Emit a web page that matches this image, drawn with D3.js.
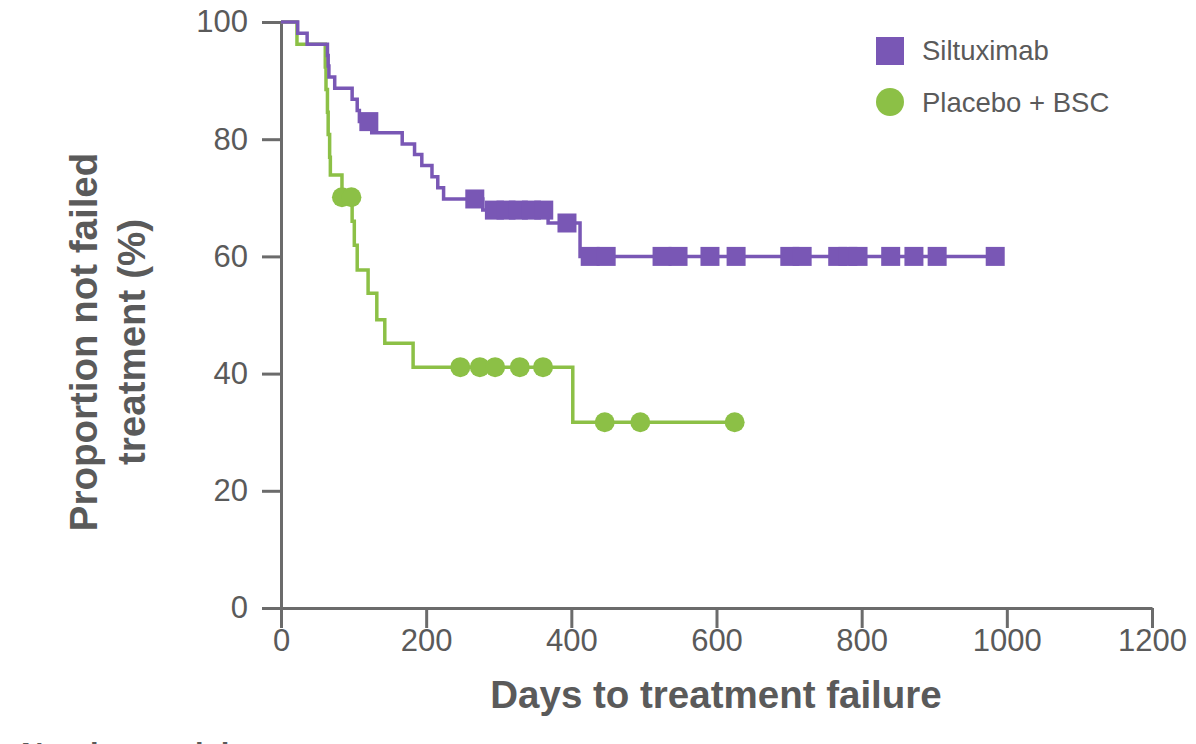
<!DOCTYPE html>
<html>
<head>
<meta charset="utf-8">
<script src="https://cdn.jsdelivr.net/npm/d3@7"></script>
<style>
  body { margin: 0; background: #fff; }
  text { font-family: Arial, "Liberation Sans", sans-serif; }
</style>
</head>
<body>
<div class="chart"></div>
<script>
// Kaplan-Meier data (days, % not failed)
var silTimes = [0, 23, 36, 64, 65, 66, 74, 98, 105, 108, 125, 167, 184, 194, 208, 216, 224, 278, 368, 412, 984];
var silSurv  = [100, 98.1, 96.2, 94.3, 92.5, 90.6, 88.7, 86.8, 84.9, 83.0, 81.1, 79.2, 77.4, 75.5, 73.6, 71.7, 69.8, 67.9, 65.7, 60.0, 60.0];
var silCensor = [121, 267, 294, 310, 327, 345, 362, 394, 426, 448, 525, 547, 591, 627, 701, 718, 767, 781, 795, 840, 872, 904, 984];

var pboTimes = [0, 22, 61, 62, 64, 65, 67, 68, 84, 98, 101, 105, 120, 132, 143, 182, 402, 625];
var pboSurv  = [100, 96.2, 92.3, 88.5, 84.6, 80.8, 76.9, 73.9, 70.1, 66.0, 61.9, 57.7, 53.7, 49.2, 45.2, 41.1, 31.7, 31.7];
var pboCensor = [84, 97, 247, 274, 295, 329, 361, 446, 495, 625];

var xTicks = [0, 200, 400, 600, 800, 1000, 1200];
var yTicks = [0, 20, 40, 60, 80, 100];

var svgWidth = 1196;
var svgHeight = 744;

var purple = "#7957b5";
var green = "#8cc046";
var axisGrey = "#6b6b6b";
var textGrey = "#5a5a5a";

var svg = d3.select(".chart")
  .append("svg")
  .attr("width", svgWidth)
  .attr("height", svgHeight);

var xScale = d3.scaleLinear().domain([0, 1200]).range([281, 1152]);
var yScale = d3.scaleLinear().domain([0, 100]).range([608, 22]);

// axes
var bottomAxis = d3.axisBottom(xScale).tickValues(xTicks).tickFormat(d3.format("d"))
  .tickSize(20).tickSizeOuter(0).tickPadding(1);
var leftAxis = d3.axisLeft(yScale).tickValues(yTicks).tickFormat(d3.format("d"))
  .tickSize(19).tickSizeOuter(0).tickPadding(14);

var xAxis = svg.append("g")
  .attr("transform", `translate(0, ${yScale(0)})`)
  .call(bottomAxis);

var yAxis = svg.append("g")
  .attr("transform", `translate(${xScale(0)}, 0)`)
  .call(leftAxis);

[xAxis, yAxis].forEach(function(ax) {
  ax.selectAll("path, line").attr("stroke", axisGrey).attr("stroke-width", 3);
  ax.selectAll("text")
    .attr("fill", textGrey)
    .style("font-size", "31px")
    .style("font-family", "Arial, 'Liberation Sans', sans-serif");
});

// axis titles
svg.append("text")
  .attr("x", 716)
  .attr("y", 708)
  .attr("text-anchor", "middle")
  .attr("fill", textGrey)
  .style("font-size", "38.5px")
  .style("font-weight", "bold")
  .text("Days to treatment failure");

var yTitle = svg.append("text")
  .attr("transform", "translate(97, 342) rotate(-90)")
  .attr("text-anchor", "middle")
  .attr("fill", textGrey)
  .style("font-size", "38.5px")
  .style("font-weight", "bold");
yTitle.append("tspan").attr("x", 0).attr("y", 0).text("Proportion not failed");
yTitle.append("tspan").attr("x", 0).attr("y", 48).text("treatment (%)");

// number at risk heading, mostly cut off at the bottom edge
svg.append("text")
  .attr("x", 21)
  .attr("y", 765)
  .attr("fill", textGrey)
  .style("font-size", "31px")
  .style("font-weight", "bold")
  .text("Number at risk");

// step function lookup for censor marks
function survAt(times, surv, t) {
  var i = d3.bisectRight(times, t) - 1;
  return surv[Math.max(i, 0)];
}

var stepLine = d3.line()
  .x(d => xScale(d[0]))
  .y(d => yScale(d[1]))
  .curve(d3.curveStepAfter);

function drawCurve(times, surv, color) {
  svg.append("path")
    .datum(d3.zip(times, surv))
    .attr("d", stepLine)
    .attr("fill", "none")
    .attr("stroke", color)
    .attr("stroke-width", 3.5);
}

drawCurve(pboTimes, pboSurv, green);
drawCurve(silTimes, silSurv, purple);

// censor markers
svg.selectAll(".pboCensor")
  .data(pboCensor)
  .enter()
  .append("circle")
  .attr("cx", d => xScale(d))
  .attr("cy", d => yScale(survAt(pboTimes, pboSurv, d)))
  .attr("r", 10)
  .attr("fill", green);

svg.selectAll(".silCensor")
  .data(silCensor)
  .enter()
  .append("rect")
  .attr("x", d => xScale(d) - 9.5)
  .attr("y", d => yScale(survAt(silTimes, silSurv, d)) - 9.5)
  .attr("width", 19)
  .attr("height", 19)
  .attr("fill", purple);

// legend
var legend = svg.append("g");
legend.append("rect")
  .attr("x", 876).attr("y", 37).attr("width", 28).attr("height", 28)
  .attr("fill", purple);
legend.append("circle")
  .attr("cx", 890).attr("cy", 102).attr("r", 14)
  .attr("fill", green);
legend.append("text")
  .attr("x", 922).attr("y", 60)
  .attr("fill", textGrey)
  .style("font-size", "27.5px")
  .text("Siltuximab");
legend.append("text")
  .attr("x", 922).attr("y", 112)
  .attr("fill", textGrey)
  .style("font-size", "27.5px")
  .text("Placebo + BSC");
</script>
</body>
</html>
